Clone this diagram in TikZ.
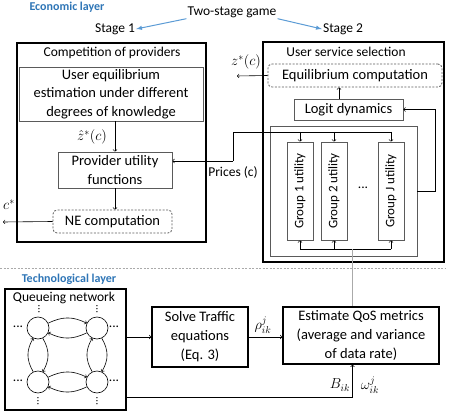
\documentclass[tikz,border=0pt]{standalone}
\usepackage{fontspec}
\setmainfont{Carlito}
\usepackage{tikz}
\usetikzlibrary{shapes,arrows,positioning}
\definecolor{econblue}{RGB}{46,117,182}
\definecolor{arrblue}{RGB}{91,155,213}
\definecolor{boxgray}{RGB}{90,90,90}
\definecolor{sepgray}{RGB}{170,170,170}
\tikzstyle{txt} = [font=\fontsize{13.5}{17}\selectfont, inner sep=1pt]
\tikzstyle{layer} = [font=\fontsize{12}{14}\selectfont\bfseries, text=econblue, inner sep=1pt]
\tikzstyle{bigbox} = [draw, line width=1.6pt, align=center, inner sep=1pt, font=\fontsize{14.5}{19}\selectfont]
\tikzstyle{inbox} = [draw=boxgray, line width=0.8pt, align=center, inner sep=1pt, font=\fontsize{14.5}{18.5}\selectfont]
\tikzstyle{dbox} = [draw=boxgray, dash pattern=on 2pt off 1.5pt, rounded corners=4pt, line width=0.8pt, inner sep=1pt, font=\fontsize{14.5}{18}\selectfont]
\tikzstyle{gbox} = [draw=boxgray, line width=0.8pt, rotate=90, minimum width=98pt, minimum height=26pt, inner sep=0pt, font=\fontsize{13}{15}\selectfont]
\tikzstyle{grpframe} = [draw=boxgray, line width=0.8pt]
\tikzstyle{qnode} = [circle, draw, line width=0.6pt, minimum size=22pt, inner sep=0pt]
\tikzstyle{line} = [draw, line width=0.6pt]
\tikzstyle{arr} = [draw, ->, line width=0.6pt]
\tikzstyle{barr} = [draw=arrblue, line width=1pt, -latex]
\tikzstyle{sep} = [draw=sepgray, dash pattern=on 2pt off 1.5pt, line width=0.8pt]
\tikzstyle{lbl} = [inner sep=1pt, font=\fontsize{14}{17}\selectfont]
\tikzstyle{vdot} = [inner sep=0pt, rotate=90, font=\fontsize{11}{11}\selectfont]

\begin{document}
\begin{tikzpicture}[x=1pt, y=-1pt]
	\useasboundingbox (0,0) rectangle (450,417);

	% economic layer
	\node [layer] (econ) at (67,7) {Economic layer};
	\node [txt] (game) at (232,12) {Two-stage game};
	\node [txt] (st1) at (115,29) {Stage 1};
	\node [txt] (st2) at (343,29) {Stage 2};
	\path [barr] (game.south west) -- (st1.east);
	\path [barr] (game.south east) -- (st2.west);

	% stage 1
	\node [bigbox, minimum width=189pt, minimum height=199pt] (comp) at (111.5,142.5) {};
	\node [txt] (compt) at (112,53) {Competition of providers};
	\node [inbox, minimum width=184pt, minimum height=54pt] (ueq) at (111,94) {User equilibrium\\estimation under different\\degrees of knowledge};
	\node [inbox, minimum width=114pt, minimum height=36pt] (prov) at (115,170) {Provider utility\\functions};
	\node [dbox, minimum width=119pt, minimum height=23pt] (ne) at (112.5,221.5) {NE computation};
	\node [lbl] (zhat) at (92,137) {$\hat{z}^*(c)$};
	\node [lbl] (cstar) at (9,205) {$c^*$};
	\coordinate (cout) at (3,222);
	\path [arr] (prov.north |- ueq.south) -- (prov.north);
	\path [arr] (prov.south) -- (prov.south |- ne.north);
	\path [arr] (ne.west) -- (cout);

	% stage 2
	\node [bigbox, minimum width=181pt, minimum height=220pt] (usel) at (353.5,152) {};
	\node [txt] (uselt) at (346,52) {User service selection};
	\node [dbox, minimum width=174pt, minimum height=23pt] (eqc) at (355,75.5) {Equilibrium computation};
	\node [inbox, minimum width=109pt, minimum height=21pt] (logit) at (348.5,109.5) {Logit dynamics};
	\node [lbl] (zstar) at (246,62) {$z^*(c)$};
	\coordinate (zout) at (237,76);
	\coordinate (lu) at (339,0);
	\path [arr] (eqc.west) -- (zout);
	\path [arr] (logit.north -| lu) -- (eqc.south -| lu);

	\node [grpframe, minimum width=147pt, minimum height=130pt] (grp) at (343.5,191) {};
	\node [gbox] (g1) at (300,191) {Group 1 utility};
	\node [gbox] (g2) at (334,191) {Group 2 utility};
	\node [gbox] (gJ) at (391,191) {Group J utility};
	\node [txt] (gdots) at (363,188) {...};

	% prices
	\coordinate (pr) at (233,132);
	\coordinate (pr1) at (233,161);
	\node [txt] (price) at (233,172) {Prices (c)};
	\path [line] (gJ.east |- pr) -- (pr) -- (pr1);
	\path [arr] (pr1) -- (pr1 -| prov.east);
	\foreach \g in {g1,g2,gJ}
		\path [arr] (pr -| \g.east) -- (\g.east);

	\coordinate (qu) at (352.5,249);
	\path [line] (qu -| g1.west) -- (qu -| gJ.west);
	\foreach \g in {g1,g2,gJ}
		\path [arr] (qu -| \g.west) -- (\g.west);
	\coordinate (fb) at (435,190);
	\path [arr] (grp.east) -- (grp.east -| fb) |- (logit.east);

	% technological layer
	\coordinate (sl) at (0,268);
	\coordinate (sr) at (445,268);
	\path [sep] (sl) -- (sr);
	\node [layer] (tech) at (69,279) {Technological layer};

	\node [bigbox, minimum width=121pt, minimum height=121pt] (queue) at (65.5,349.5) {};
	\node [txt] (queuet) at (64,298) {Queueing network};
	\node [qnode] (q1) at (38,328) {};
	\node [qnode] (q2) at (97,328) {};
	\node [qnode] (q3) at (38,382) {};
	\node [qnode] (q4) at (97,382) {};
	% horizontal pairs
	\foreach \a/\b in {q1/q2, q3/q4} {
		\path [arr] (\a.25) .. controls +(14,-7) and +(-14,-7) .. (\b.155);
		\path [arr] (\b.-155) .. controls +(-14,7) and +(14,7) .. (\a.-25);
	}
	% vertical pairs
	\foreach \a/\b in {q1/q3, q2/q4} {
		\path [arr] (\b.115) .. controls +(-7,-12) and +(-7,12) .. (\a.-115);
		\path [arr] (\a.-65) .. controls +(7,12) and +(7,-12) .. (\b.65);
	}
	\node [txt] (d1) at (18,327) {...};
	\node [txt] (d2) at (114,327) {...};
	\node [txt] (d3) at (18,381) {...};
	\node [txt] (d4) at (114,381) {...};
	\node [vdot] (d5) at (39,309) {...};
	\node [vdot] (d6) at (97,309) {...};
	\node [vdot] (d7) at (38,401) {...};
	\node [vdot] (d8) at (97,401) {...};

	\node [bigbox, minimum width=96pt, minimum height=60pt] (solve) at (200,337) {Solve Traffic\\equations\\(Eq. 3)};
	\node [bigbox, minimum width=156pt, minimum height=57pt] (qos) at (361,335.5) {Estimate QoS metrics\\(average and variance\\of data rate)};
	\node [lbl] (rho) at (263,325) {$\rho_{ik}^{j}$};
	\node [lbl] (bik) at (340,385) {$B_{ik}$};
	\node [lbl] (om) at (370,385) {$\omega_{ik}^{j}$};
	\coordinate (bq) at (352.5,397);
	\path [arr] (solve.west -| queue.east) -- (solve.west);
	\path [arr] (solve.east) -- (solve.east -| qos.west);
	\path [arr] (bq -| queue.east) -- (bq) -- (bq |- qos.south);
	\path [line, draw=sepgray] (qu) -- (qu |- qos.north);
\end{tikzpicture}
\end{document}
